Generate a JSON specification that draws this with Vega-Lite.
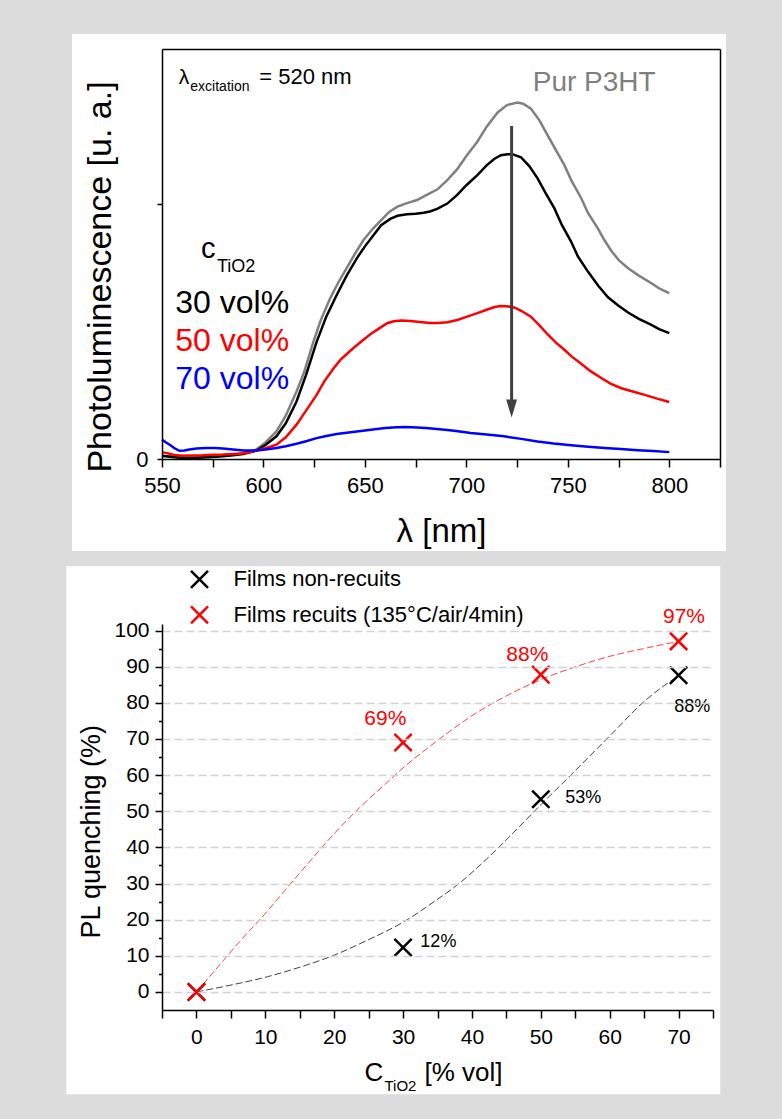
{
  "$schema": "https://vega.github.io/schema/vega-lite/v6.json",
  "background": "#dcdcdc",
  "padding": {"left": 66, "top": 33, "right": 62, "bottom": 27},
  "columns": 1,
  "align": "none",
  "spacing": 14,
  "resolve": {"scale": {"color": "independent"}, "legend": {"color": "independent"}},
  "config": {"font": "Liberation Sans", "view": {"stroke": null}},
  "datasets": {
    "pl": [
      {"nm":550,"v":0.012,"s":"Pur P3HT"},{"nm":555,"v":0.01,"s":"Pur P3HT"},{"nm":560,"v":0.006,"s":"Pur P3HT"},{"nm":565,"v":0.006,"s":"Pur P3HT"},{"nm":570,"v":0.008,"s":"Pur P3HT"},{"nm":575,"v":0.01,"s":"Pur P3HT"},{"nm":580,"v":0.013,"s":"Pur P3HT"},{"nm":585,"v":0.017,"s":"Pur P3HT"},{"nm":590,"v":0.024,"s":"Pur P3HT"},{"nm":596.5,"v":0.037,"s":"Pur P3HT"},{"nm":601,"v":0.065,"s":"Pur P3HT"},{"nm":606.4,"v":0.108,"s":"Pur P3HT"},{"nm":611,"v":0.17,"s":"Pur P3HT"},{"nm":616.3,"v":0.265,"s":"Pur P3HT"},{"nm":620,"v":0.34,"s":"Pur P3HT"},{"nm":624.6,"v":0.46,"s":"Pur P3HT"},{"nm":628,"v":0.54,"s":"Pur P3HT"},{"nm":632.8,"v":0.63,"s":"Pur P3HT"},{"nm":637,"v":0.695,"s":"Pur P3HT"},{"nm":641,"v":0.75,"s":"Pur P3HT"},{"nm":645,"v":0.805,"s":"Pur P3HT"},{"nm":649.3,"v":0.86,"s":"Pur P3HT"},{"nm":654,"v":0.905,"s":"Pur P3HT"},{"nm":659.2,"v":0.948,"s":"Pur P3HT"},{"nm":662,"v":0.97,"s":"Pur P3HT"},{"nm":665.8,"v":0.99,"s":"Pur P3HT"},{"nm":670,"v":1.003,"s":"Pur P3HT"},{"nm":675.7,"v":1.017,"s":"Pur P3HT"},{"nm":680,"v":1.035,"s":"Pur P3HT"},{"nm":685.6,"v":1.058,"s":"Pur P3HT"},{"nm":690.6,"v":1.095,"s":"Pur P3HT"},{"nm":695.5,"v":1.138,"s":"Pur P3HT"},{"nm":700,"v":1.19,"s":"Pur P3HT"},{"nm":705.4,"v":1.246,"s":"Pur P3HT"},{"nm":710,"v":1.305,"s":"Pur P3HT"},{"nm":715.3,"v":1.36,"s":"Pur P3HT"},{"nm":720,"v":1.39,"s":"Pur P3HT"},{"nm":725.2,"v":1.4,"s":"Pur P3HT"},{"nm":728,"v":1.395,"s":"Pur P3HT"},{"nm":731.8,"v":1.376,"s":"Pur P3HT"},{"nm":736,"v":1.33,"s":"Pur P3HT"},{"nm":740,"v":1.272,"s":"Pur P3HT"},{"nm":744,"v":1.215,"s":"Pur P3HT"},{"nm":748.3,"v":1.154,"s":"Pur P3HT"},{"nm":752,"v":1.09,"s":"Pur P3HT"},{"nm":756.6,"v":1.024,"s":"Pur P3HT"},{"nm":760,"v":0.965,"s":"Pur P3HT"},{"nm":764.8,"v":0.906,"s":"Pur P3HT"},{"nm":768,"v":0.86,"s":"Pur P3HT"},{"nm":771.4,"v":0.818,"s":"Pur P3HT"},{"nm":775,"v":0.782,"s":"Pur P3HT"},{"nm":779.7,"v":0.749,"s":"Pur P3HT"},{"nm":785,"v":0.72,"s":"Pur P3HT"},{"nm":791.2,"v":0.69,"s":"Pur P3HT"},{"nm":795,"v":0.67,"s":"Pur P3HT"},{"nm":800,"v":0.651,"s":"Pur P3HT"},
      {"nm":550,"v":0.013,"s":"30 vol%"},{"nm":555,"v":0.008,"s":"30 vol%"},{"nm":560,"v":0.004,"s":"30 vol%"},{"nm":565,"v":0.004,"s":"30 vol%"},{"nm":570,"v":0.006,"s":"30 vol%"},{"nm":575,"v":0.008,"s":"30 vol%"},{"nm":580,"v":0.011,"s":"30 vol%"},{"nm":585,"v":0.015,"s":"30 vol%"},{"nm":590,"v":0.02,"s":"30 vol%"},{"nm":596.5,"v":0.033,"s":"30 vol%"},{"nm":601,"v":0.055,"s":"30 vol%"},{"nm":606.4,"v":0.089,"s":"30 vol%"},{"nm":611,"v":0.14,"s":"30 vol%"},{"nm":616.3,"v":0.226,"s":"30 vol%"},{"nm":621,"v":0.33,"s":"30 vol%"},{"nm":626.2,"v":0.46,"s":"30 vol%"},{"nm":631,"v":0.56,"s":"30 vol%"},{"nm":636.1,"v":0.644,"s":"30 vol%"},{"nm":641,"v":0.72,"s":"30 vol%"},{"nm":646,"v":0.788,"s":"30 vol%"},{"nm":650,"v":0.835,"s":"30 vol%"},{"nm":654.3,"v":0.88,"s":"30 vol%"},{"nm":658,"v":0.918,"s":"30 vol%"},{"nm":662.5,"v":0.943,"s":"30 vol%"},{"nm":666,"v":0.955,"s":"30 vol%"},{"nm":670.8,"v":0.961,"s":"30 vol%"},{"nm":675,"v":0.963,"s":"30 vol%"},{"nm":679,"v":0.967,"s":"30 vol%"},{"nm":682,"v":0.972,"s":"30 vol%"},{"nm":685.6,"v":0.982,"s":"30 vol%"},{"nm":690.6,"v":1.003,"s":"30 vol%"},{"nm":695.5,"v":1.037,"s":"30 vol%"},{"nm":700,"v":1.075,"s":"30 vol%"},{"nm":705.4,"v":1.115,"s":"30 vol%"},{"nm":710,"v":1.153,"s":"30 vol%"},{"nm":713.7,"v":1.178,"s":"30 vol%"},{"nm":717,"v":1.193,"s":"30 vol%"},{"nm":720.3,"v":1.197,"s":"30 vol%"},{"nm":723,"v":1.196,"s":"30 vol%"},{"nm":726.9,"v":1.185,"s":"30 vol%"},{"nm":731,"v":1.15,"s":"30 vol%"},{"nm":735.1,"v":1.102,"s":"30 vol%"},{"nm":739,"v":1.045,"s":"30 vol%"},{"nm":743.4,"v":0.984,"s":"30 vol%"},{"nm":747,"v":0.92,"s":"30 vol%"},{"nm":751.6,"v":0.854,"s":"30 vol%"},{"nm":755,"v":0.795,"s":"30 vol%"},{"nm":759.9,"v":0.736,"s":"30 vol%"},{"nm":765,"v":0.68,"s":"30 vol%"},{"nm":769.8,"v":0.635,"s":"30 vol%"},{"nm":775,"v":0.602,"s":"30 vol%"},{"nm":779.7,"v":0.575,"s":"30 vol%"},{"nm":785,"v":0.55,"s":"30 vol%"},{"nm":791.2,"v":0.527,"s":"30 vol%"},{"nm":795,"v":0.51,"s":"30 vol%"},{"nm":800,"v":0.494,"s":"30 vol%"},
      {"nm":550,"v":0.027,"s":"50 vol%"},{"nm":553,"v":0.022,"s":"50 vol%"},{"nm":556,"v":0.016,"s":"50 vol%"},{"nm":560,"v":0.013,"s":"50 vol%"},{"nm":565,"v":0.014,"s":"50 vol%"},{"nm":570,"v":0.015,"s":"50 vol%"},{"nm":575,"v":0.017,"s":"50 vol%"},{"nm":580,"v":0.018,"s":"50 vol%"},{"nm":585,"v":0.02,"s":"50 vol%"},{"nm":590,"v":0.022,"s":"50 vol%"},{"nm":596.5,"v":0.033,"s":"50 vol%"},{"nm":601,"v":0.042,"s":"50 vol%"},{"nm":606.4,"v":0.056,"s":"50 vol%"},{"nm":611,"v":0.085,"s":"50 vol%"},{"nm":616.3,"v":0.135,"s":"50 vol%"},{"nm":621,"v":0.19,"s":"50 vol%"},{"nm":626.2,"v":0.252,"s":"50 vol%"},{"nm":630,"v":0.305,"s":"50 vol%"},{"nm":634.5,"v":0.355,"s":"50 vol%"},{"nm":638,"v":0.39,"s":"50 vol%"},{"nm":642.7,"v":0.424,"s":"50 vol%"},{"nm":646,"v":0.447,"s":"50 vol%"},{"nm":649.3,"v":0.468,"s":"50 vol%"},{"nm":653,"v":0.492,"s":"50 vol%"},{"nm":657.6,"v":0.516,"s":"50 vol%"},{"nm":661,"v":0.533,"s":"50 vol%"},{"nm":664.2,"v":0.541,"s":"50 vol%"},{"nm":668,"v":0.544,"s":"50 vol%"},{"nm":672.4,"v":0.542,"s":"50 vol%"},{"nm":677,"v":0.538,"s":"50 vol%"},{"nm":682.3,"v":0.534,"s":"50 vol%"},{"nm":686,"v":0.534,"s":"50 vol%"},{"nm":690.6,"v":0.537,"s":"50 vol%"},{"nm":695.5,"v":0.546,"s":"50 vol%"},{"nm":700,"v":0.558,"s":"50 vol%"},{"nm":705.4,"v":0.573,"s":"50 vol%"},{"nm":710,"v":0.586,"s":"50 vol%"},{"nm":714,"v":0.597,"s":"50 vol%"},{"nm":717,"v":0.601,"s":"50 vol%"},{"nm":720,"v":0.6,"s":"50 vol%"},{"nm":723.6,"v":0.595,"s":"50 vol%"},{"nm":727,"v":0.582,"s":"50 vol%"},{"nm":731.8,"v":0.559,"s":"50 vol%"},{"nm":736,"v":0.525,"s":"50 vol%"},{"nm":740,"v":0.49,"s":"50 vol%"},{"nm":744,"v":0.458,"s":"50 vol%"},{"nm":748.3,"v":0.429,"s":"50 vol%"},{"nm":752,"v":0.402,"s":"50 vol%"},{"nm":756.6,"v":0.374,"s":"50 vol%"},{"nm":761,"v":0.346,"s":"50 vol%"},{"nm":766.5,"v":0.318,"s":"50 vol%"},{"nm":771,"v":0.296,"s":"50 vol%"},{"nm":776.4,"v":0.278,"s":"50 vol%"},{"nm":782,"v":0.265,"s":"50 vol%"},{"nm":787.9,"v":0.252,"s":"50 vol%"},{"nm":794,"v":0.237,"s":"50 vol%"},{"nm":800,"v":0.224,"s":"50 vol%"},
      {"nm":550,"v":0.076,"s":"70 vol%"},{"nm":552,"v":0.065,"s":"70 vol%"},{"nm":554,"v":0.055,"s":"70 vol%"},{"nm":556,"v":0.043,"s":"70 vol%"},{"nm":558.6,"v":0.032,"s":"70 vol%"},{"nm":561,"v":0.033,"s":"70 vol%"},{"nm":563.5,"v":0.037,"s":"70 vol%"},{"nm":567,"v":0.041,"s":"70 vol%"},{"nm":571.8,"v":0.043,"s":"70 vol%"},{"nm":576,"v":0.043,"s":"70 vol%"},{"nm":580,"v":0.041,"s":"70 vol%"},{"nm":585,"v":0.037,"s":"70 vol%"},{"nm":590,"v":0.033,"s":"70 vol%"},{"nm":596.5,"v":0.033,"s":"70 vol%"},{"nm":601,"v":0.037,"s":"70 vol%"},{"nm":606.4,"v":0.043,"s":"70 vol%"},{"nm":611,"v":0.05,"s":"70 vol%"},{"nm":616.3,"v":0.06,"s":"70 vol%"},{"nm":621,"v":0.07,"s":"70 vol%"},{"nm":626.2,"v":0.082,"s":"70 vol%"},{"nm":631,"v":0.09,"s":"70 vol%"},{"nm":636.1,"v":0.098,"s":"70 vol%"},{"nm":641,"v":0.103,"s":"70 vol%"},{"nm":646,"v":0.108,"s":"70 vol%"},{"nm":651,"v":0.113,"s":"70 vol%"},{"nm":655.9,"v":0.118,"s":"70 vol%"},{"nm":660,"v":0.122,"s":"70 vol%"},{"nm":665.8,"v":0.125,"s":"70 vol%"},{"nm":670,"v":0.126,"s":"70 vol%"},{"nm":675.7,"v":0.124,"s":"70 vol%"},{"nm":680,"v":0.122,"s":"70 vol%"},{"nm":685.6,"v":0.118,"s":"70 vol%"},{"nm":690.6,"v":0.114,"s":"70 vol%"},{"nm":695,"v":0.11,"s":"70 vol%"},{"nm":702.1,"v":0.102,"s":"70 vol%"},{"nm":710,"v":0.096,"s":"70 vol%"},{"nm":718.6,"v":0.089,"s":"70 vol%"},{"nm":727,"v":0.079,"s":"70 vol%"},{"nm":735.1,"v":0.069,"s":"70 vol%"},{"nm":743,"v":0.061,"s":"70 vol%"},{"nm":751.6,"v":0.054,"s":"70 vol%"},{"nm":760,"v":0.048,"s":"70 vol%"},{"nm":768.1,"v":0.043,"s":"70 vol%"},{"nm":776,"v":0.039,"s":"70 vol%"},{"nm":784.6,"v":0.034,"s":"70 vol%"},{"nm":792,"v":0.031,"s":"70 vol%"},{"nm":800,"v":0.027,"s":"70 vol%"}
    ],
    "pts": [
      {"c":0,"q":0,"s":"Films non-recuits","lab":""},
      {"c":30,"q":12.3,"s":"Films non-recuits","lab":"12%"},
      {"c":50,"q":53.3,"s":"Films non-recuits","lab":"53%"},
      {"c":70,"q":87.6,"s":"Films non-recuits","lab":"88%"},
      {"c":0,"q":0,"s":"Films recuits (135°C/air/4min)","lab":""},
      {"c":30,"q":69,"s":"Films recuits (135°C/air/4min)","lab":"69%"},
      {"c":50,"q":87.8,"s":"Films recuits (135°C/air/4min)","lab":"88%"},
      {"c":70,"q":97,"s":"Films recuits (135°C/air/4min)","lab":"97%"}
    ],
    "fit": [
      {"c":0,"q":0,"s":"n"},{"c":5,"q":1.9,"s":"n"},{"c":10.3,"q":4.2,"s":"n"},{"c":15.1,"q":6.9,"s":"n"},{"c":19.9,"q":10.1,"s":"n"},{"c":24.8,"q":14.3,"s":"n"},{"c":30.1,"q":19.4,"s":"n"},{"c":34.6,"q":25.1,"s":"n"},{"c":37.8,"q":29.5,"s":"n"},{"c":42.7,"q":37.8,"s":"n"},{"c":46.1,"q":44.2,"s":"n"},{"c":49.9,"q":51.6,"s":"n"},{"c":54.3,"q":59.9,"s":"n"},{"c":60.1,"q":71,"s":"n"},{"c":64.9,"q":80.2,"s":"n"},{"c":68.6,"q":85.7,"s":"n"},{"c":70,"q":87.5,"s":"n"},
      {"c":0,"q":0,"s":"r"},{"c":2.7,"q":6,"s":"r"},{"c":6.3,"q":14,"s":"r"},{"c":9.9,"q":21.5,"s":"r"},{"c":12.8,"q":28,"s":"r"},{"c":16.4,"q":36,"s":"r"},{"c":20.1,"q":44,"s":"r"},{"c":23.7,"q":51,"s":"r"},{"c":27.3,"q":57.3,"s":"r"},{"c":30,"q":62,"s":"r"},{"c":33.8,"q":67.8,"s":"r"},{"c":36.7,"q":72,"s":"r"},{"c":40.3,"q":76.8,"s":"r"},{"c":43.9,"q":80.8,"s":"r"},{"c":50.1,"q":86.5,"s":"r"},{"c":54.8,"q":89.8,"s":"r"},{"c":59.9,"q":92.8,"s":"r"},{"c":65.7,"q":95.3,"s":"r"},{"c":70,"q":97,"s":"r"}
    ]
  },
  "concat": [
    {
      "width": 558,
      "height": 410,
      "layer": [
        {
          "data": {"values": [{}]},
          "mark": {"type": "rect", "fill": "white"},
          "encoding": {
            "x": {"datum": 505.65, "type": "quantitative", "axis": {"orient": "top", "ticks": false, "labels": false, "title": null, "grid": false, "domainColor": "black", "domainWidth": 1.5, "zindex": 1}},
            "x2": {"datum": 827.95},
            "y": {"datum": -0.3613, "type": "quantitative", "axis": {"orient": "right", "ticks": false, "labels": false, "title": null, "grid": false, "domainColor": "black", "domainWidth": 1.5, "zindex": 1}},
            "y2": {"datum": 1.669}
          }
        },
        {
          "data": {"name": "pl"},
          "mark": {"type": "line", "strokeWidth": 2.5},
          "encoding": {
            "x": {"field": "nm", "type": "quantitative", "scale": {"domain": [550, 825], "nice": false, "zero": false},
              "axis": {"orient": "bottom", "values": [550,575,600,625,650,675,700,725,750,775,800,825], "labelExpr": "datum.value % 50 == 0 ? datum.label : ''", "tickSize": 8, "tickWidth": 1.5, "tickColor": "black", "domainColor": "black", "domainWidth": 1.5, "labelFontSize": 22, "labelColor": "black", "labelPadding": 8, "labelFlush": false, "labelOverlap": false, "grid": false, "title": "λ [nm]", "titleFontSize": 33, "titleFontWeight": "normal", "titleColor": "black", "titlePadding": 19, "zindex": 1}},
            "y": {"field": "v", "type": "quantitative", "scale": {"domain": [0, 1.61], "nice": false, "zero": false},
              "axis": {"orient": "left", "values": [0, 1], "labelExpr": "datum.value == 0 ? '0' : ''", "tickSize": 5, "tickWidth": 1.5, "tickColor": "black", "domainColor": "black", "domainWidth": 1.5, "labelFontSize": 22, "labelColor": "black", "labelPadding": 9, "labelOverlap": false, "grid": false, "title": "Photoluminescence [u. a.]", "titleFontSize": 34, "titleFontWeight": "normal", "titleColor": "black", "titleAngle": -90, "titleAlign": "center", "titleBaseline": "alphabetic", "titleX": -51.5, "titleY": 227.5, "zindex": 1}},
            "color": {"field": "s", "type": "nominal", "scale": {"domain": ["Pur P3HT", "30 vol%", "50 vol%", "70 vol%"], "range": ["#808080", "#000000", "#ff0000", "#0000ff"]}, "legend": null}
          }
        },
        {
          "data": {"values": [{}]},
          "mark": {"type": "rule", "color": "#404040", "strokeWidth": 3},
          "encoding": {
            "x": {"datum": 722.3, "type": "quantitative", "axis": null},
            "y": {"datum": 1.3076, "type": "quantitative", "axis": null},
            "y2": {"datum": 0.22}
          }
        },
        {
          "data": {"values": [{}]},
          "mark": {"type": "point", "shape": "M-0.6,-1L0.6,-1L0,1Z", "filled": true, "color": "#404040", "size": 324, "opacity": 1},
          "encoding": {
            "x": {"datum": 722.3, "type": "quantitative", "axis": null},
            "y": {"datum": 0.1983, "type": "quantitative", "axis": null}
          }
        },
        {
          "data": {"values": [{}]},
          "mark": {"type": "text", "text": "λ", "fontSize": 21, "align": "left", "baseline": "alphabetic", "color": "black"},
          "encoding": {"x": {"datum": 558.2, "type": "quantitative", "axis": null}, "y": {"datum": 1.4726, "type": "quantitative", "axis": null}}
        },
        {
          "data": {"values": [{}]},
          "mark": {"type": "text", "text": "excitation", "fontSize": 14, "align": "left", "baseline": "alphabetic", "color": "black"},
          "encoding": {"x": {"datum": 563.95, "type": "quantitative", "axis": null}, "y": {"datum": 1.4451, "type": "quantitative", "axis": null}}
        },
        {
          "data": {"values": [{}]},
          "mark": {"type": "text", "text": "= 520 nm", "fontSize": 22, "align": "left", "baseline": "alphabetic", "color": "black"},
          "encoding": {"x": {"datum": 597.95, "type": "quantitative", "axis": null}, "y": {"datum": 1.4714, "type": "quantitative", "axis": null}}
        },
        {
          "data": {"values": [{}]},
          "mark": {"type": "text", "text": "Pur P3HT", "fontSize": 28, "align": "left", "baseline": "alphabetic", "color": "#808080"},
          "encoding": {"x": {"datum": 732.7, "type": "quantitative", "axis": null}, "y": {"datum": 1.4451, "type": "quantitative", "axis": null}}
        },
        {
          "data": {"values": [{}]},
          "mark": {"type": "text", "text": "c", "fontSize": 29, "align": "left", "baseline": "alphabetic", "color": "black"},
          "encoding": {"x": {"datum": 569.2, "type": "quantitative", "axis": null}, "y": {"datum": 0.7905, "type": "quantitative", "axis": null}}
        },
        {
          "data": {"values": [{}]},
          "mark": {"type": "text", "text": "TiO2", "fontSize": 18, "align": "left", "baseline": "alphabetic", "color": "black"},
          "encoding": {"x": {"datum": 577.1, "type": "quantitative", "axis": null}, "y": {"datum": 0.7355, "type": "quantitative", "axis": null}}
        },
        {
          "data": {"values": [{}]},
          "mark": {"type": "text", "text": "30 vol%", "fontSize": 32, "align": "left", "baseline": "alphabetic", "color": "black"},
          "encoding": {"x": {"datum": 556.55, "type": "quantitative", "axis": null}, "y": {"datum": 0.5745, "type": "quantitative", "axis": null}}
        },
        {
          "data": {"values": [{}]},
          "mark": {"type": "text", "text": "50 vol%", "fontSize": 32, "align": "left", "baseline": "alphabetic", "color": "#ff0000"},
          "encoding": {"x": {"datum": 556.55, "type": "quantitative", "axis": null}, "y": {"datum": 0.4241, "type": "quantitative", "axis": null}}
        },
        {
          "data": {"values": [{}]},
          "mark": {"type": "text", "text": "70 vol%", "fontSize": 32, "align": "left", "baseline": "alphabetic", "color": "#0000ff"},
          "encoding": {"x": {"datum": 556.55, "type": "quantitative", "axis": null}, "y": {"datum": 0.2737, "type": "quantitative", "axis": null}}
        }
      ],
      "resolve": {"axis": {"x": "independent", "y": "independent"}}
    },
    {
      "width": 551,
      "height": 386,
      "layer": [
        {
          "data": {"values": [{}]},
          "mark": {"type": "rect", "fill": "white"},
          "encoding": {
            "x": {"datum": -18.9, "type": "quantitative", "axis": null},
            "x2": {"datum": 76.06},
            "y": {"datum": -28.3, "type": "quantitative", "axis": {"orient": "left", "values": [5,15,25,35,45,55,65,75,85,95], "tickSize": 3.5, "tickWidth": 1.5, "tickColor": "black", "labels": false, "domain": false, "grid": false, "title": null, "zindex": 1}},
            "y2": {"datum": 117.75}
          }
        },
        {
          "data": {"name": "fit"},
          "transform": [{"filter": "datum.s == 'n'"}],
          "mark": {"type": "line", "strokeWidth": 1, "strokeDash": [7, 3], "color": "#404040", "interpolate": "monotone"},
          "encoding": {
            "x": {"field": "c", "type": "quantitative", "axis": null},
            "y": {"field": "q", "type": "quantitative", "axis": null}
          }
        },
        {
          "data": {"name": "fit"},
          "transform": [{"filter": "datum.s == 'r'"}],
          "mark": {"type": "line", "strokeWidth": 1, "strokeDash": [7, 3], "color": "#ff4040", "interpolate": "monotone"},
          "encoding": {
            "x": {"field": "c", "type": "quantitative", "axis": null},
            "y": {"field": "q", "type": "quantitative", "axis": null}
          }
        },
        {
          "data": {"name": "pts"},
          "mark": {"type": "point", "shape": "M-1,-1L1,1M1,-1L-1,1", "filled": false, "strokeWidth": 2.5, "size": 300, "opacity": 1},
          "encoding": {
            "x": {"field": "c", "type": "quantitative", "scale": {"domain": [-5, 75], "nice": false, "zero": false},
              "axis": {"orient": "bottom", "values": [-5,0,5,10,15,20,25,30,35,40,45,50,55,60,65,70,75], "labelExpr": "datum.value % 10 == 0 && datum.value >= 0 ? datum.label : ''", "tickSize": 8, "tickWidth": 1.5, "tickColor": "black", "domainColor": "black", "domainWidth": 1.5, "labelFontSize": 21, "labelColor": "black", "labelPadding": 8, "labelFlush": false, "labelOverlap": false, "grid": false, "title": null, "zindex": 1}},
            "y": {"field": "q", "type": "quantitative", "scale": {"domain": [-5, 101.8], "nice": false, "zero": false},
              "axis": {"orient": "left", "values": [0,10,20,30,40,50,60,70,80,90,100], "tickSize": 7, "tickWidth": 1.5, "tickColor": "black", "domainColor": "black", "domainWidth": 1.5, "labelFontSize": 21, "labelColor": "black", "labelPadding": 6, "labelOverlap": false, "grid": true, "gridDash": [8, 4], "gridColor": "#d3d3d3", "gridWidth": 1.5, "title": "PL quenching (%)", "titleFontSize": 27, "titleFontWeight": "normal", "titleColor": "black", "titleAngle": -90, "titleAlign": "center", "titleBaseline": "alphabetic", "titleX": -62.2, "titleY": 207.3, "zindex": 1}},
            "color": {"field": "s", "type": "nominal", "scale": {"domain": ["Films non-recuits", "Films recuits (135°C/air/4min)"], "range": ["#000000", "#ff0000"]},
              "legend": {"orient": "none", "legendX": 26.5, "legendY": -55.7, "title": null, "symbolType": "M-1,-1L1,1M1,-1L-1,1", "symbolSize": 289, "symbolStrokeWidth": 2.5, "labelFontSize": 22, "labelColor": "black", "labelOffset": 23, "rowPadding": 7.5, "padding": 0, "labelLimit": 0}}
          }
        },
        {
          "data": {"name": "pts"},
          "transform": [{"filter": "datum.c == 30 && datum.q > 50"}],
          "mark": {"type": "text", "fontSize": 21, "align": "center", "baseline": "alphabetic", "color": "#ff0000", "dx": -17.7, "dy": -17.7},
          "encoding": {"x": {"field": "c", "type": "quantitative", "axis": null}, "y": {"field": "q", "type": "quantitative", "axis": null}, "text": {"field": "lab"}}
        },
        {
          "data": {"name": "pts"},
          "transform": [{"filter": "datum.c == 50 && datum.q > 80"}],
          "mark": {"type": "text", "fontSize": 21, "align": "center", "baseline": "alphabetic", "color": "#ff0000", "dx": -13.5, "dy": -13.4},
          "encoding": {"x": {"field": "c", "type": "quantitative", "axis": null}, "y": {"field": "q", "type": "quantitative", "axis": null}, "text": {"field": "lab"}}
        },
        {
          "data": {"name": "pts"},
          "transform": [{"filter": "datum.c == 70 && datum.q > 90"}],
          "mark": {"type": "text", "fontSize": 21, "align": "center", "baseline": "alphabetic", "color": "#ff0000", "dx": 5.4, "dy": -18.5},
          "encoding": {"x": {"field": "c", "type": "quantitative", "axis": null}, "y": {"field": "q", "type": "quantitative", "axis": null}, "text": {"field": "lab"}}
        },
        {
          "data": {"name": "pts"},
          "transform": [{"filter": "datum.c == 30 && datum.q < 50"}],
          "mark": {"type": "text", "fontSize": 18, "align": "left", "baseline": "alphabetic", "color": "black", "dx": 17.3, "dy": 0},
          "encoding": {"x": {"field": "c", "type": "quantitative", "axis": null}, "y": {"field": "q", "type": "quantitative", "axis": null}, "text": {"field": "lab"}}
        },
        {
          "data": {"name": "pts"},
          "transform": [{"filter": "datum.c == 50 && datum.q < 80"}],
          "mark": {"type": "text", "fontSize": 18, "align": "left", "baseline": "alphabetic", "color": "black", "dx": 24.5, "dy": 3.4},
          "encoding": {"x": {"field": "c", "type": "quantitative", "axis": null}, "y": {"field": "q", "type": "quantitative", "axis": null}, "text": {"field": "lab"}}
        },
        {
          "data": {"name": "pts"},
          "transform": [{"filter": "datum.c == 70 && datum.q < 90"}],
          "mark": {"type": "text", "fontSize": 18, "align": "left", "baseline": "alphabetic", "color": "black", "dx": -4.3, "dy": 37},
          "encoding": {"x": {"field": "c", "type": "quantitative", "axis": null}, "y": {"field": "q", "type": "quantitative", "axis": null}, "text": {"field": "lab"}}
        },
        {
          "data": {"values": [{}]},
          "mark": {"type": "text", "text": "C", "fontSize": 26, "align": "left", "baseline": "alphabetic", "color": "black"},
          "encoding": {"x": {"datum": 24.4, "type": "quantitative", "axis": null}, "y": {"datum": -24.6, "type": "quantitative", "axis": null}}
        },
        {
          "data": {"values": [{}]},
          "mark": {"type": "text", "text": "TiO2", "fontSize": 15, "align": "left", "baseline": "alphabetic", "color": "black"},
          "encoding": {"x": {"datum": 27.3, "type": "quantitative", "axis": null}, "y": {"datum": -27.5, "type": "quantitative", "axis": null}}
        },
        {
          "data": {"values": [{}]},
          "mark": {"type": "text", "text": "[% vol]", "fontSize": 26, "align": "left", "baseline": "alphabetic", "color": "black"},
          "encoding": {"x": {"datum": 33.1, "type": "quantitative", "axis": null}, "y": {"datum": -24.6, "type": "quantitative", "axis": null}}
        }
      ],
      "resolve": {"axis": {"x": "independent", "y": "independent"}}
    }
  ]
}
